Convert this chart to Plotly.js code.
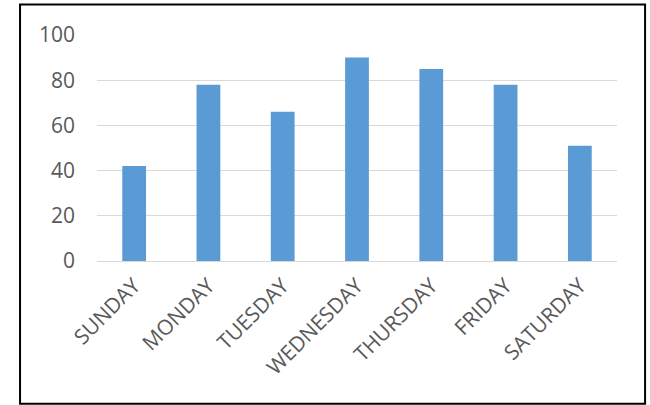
<!DOCTYPE html>
<html>
<head>
<meta charset="utf-8">
<script src="https://cdn.plot.ly/plotly-3.0.1.min.js"></script>
<style>
  html, body { margin: 0; padding: 0; background: #fff; }
  #chart { width: 650px; height: 405px; }
</style>
</head>
<body>
<div id="chart"></div>
<script>
// Weekly counts per day
const days = ["SUNDAY", "MONDAY", "TUESDAY", "WEDNESDAY", "THURSDAY", "FRIDAY", "SATURDAY"];
const counts = [42, 78, 66, 90, 85, 78, 51];
const yTicks = [0, 20, 40, 60, 80, 100];

const labelFont = { family: "Open Sans, Liberation Sans, sans-serif", size: 21, color: "#595959" };

const trace = {
  type: "bar",
  x: days,
  y: counts,
  marker: { color: "#5B9BD5" },
  hoverinfo: "x+y"
};

const layout = {
  width: 650,
  height: 405,
  margin: { l: 97, r: 33, t: 35, b: 144, pad: 0 },
  paper_bgcolor: "#ffffff",
  plot_bgcolor: "#ffffff",
  bargap: 0.68,
  showlegend: false,
  xaxis: {
    type: "category",
    tickangle: -45,
    tickfont: labelFont,
    showgrid: false,
    showline: true,
    linecolor: "#d9d9d9",
    linewidth: 1,
    ticks: "",
    ticklabelstandoff: 3
  },
  yaxis: {
    range: [0, 100],
    tickvals: yTicks,
    ticktext: yTicks.map(String),
    tickfont: labelFont,
    showgrid: true,
    gridcolor: "#d9d9d9",
    gridwidth: 1,
    zeroline: false,
    showline: false,
    ticks: "",
    ticklabelstandoff: 21
  },
  shapes: [{
    type: "rect",
    xref: "paper", yref: "paper",
    x0: -0.148, x1: 1.054,
    y0: -0.632, y1: 1.135,
    line: { color: "#000000", width: 2 },
    fillcolor: "rgba(0,0,0,0)",
    layer: "above"
  }]
};

Plotly.newPlot("chart", [trace], layout, { displayModeBar: false, staticPlot: true });
</script>
</body>
</html>
